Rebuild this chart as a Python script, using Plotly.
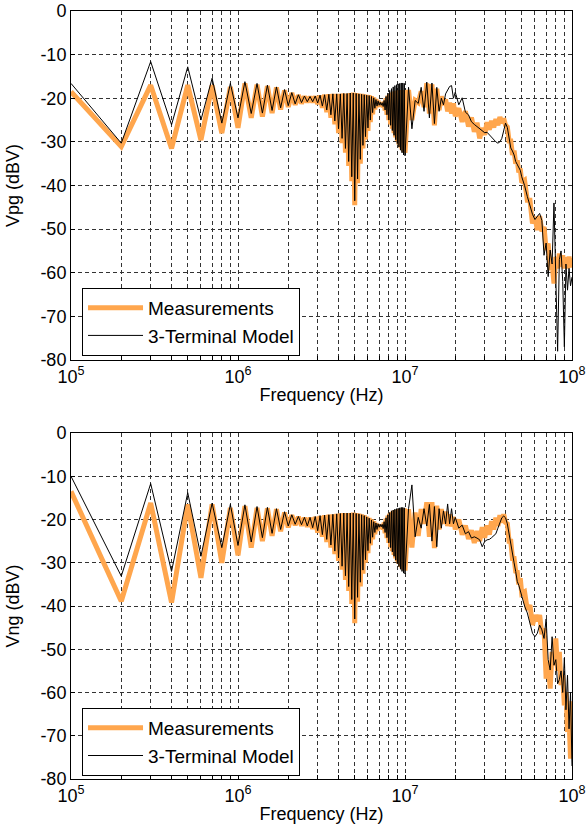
import plotly.graph_objects as go

# ---------------- DATA ----------------
# Low-frequency part: harmonics of 100 kHz (n = 1..100)
HARMONIC_STEP_HZ = 1e5
HARMONICS = list(range(1, 101))

# Vpg - Measurements (odd harmonics n=1,3,..,99 / even harmonics n=2,4,..,100), dBV
vpg_meas_odd = [-18.5, -17, -17, -17, -17.4, -16.6, -16.9, -17.2, -17.5, -18.2,
                -18.8, -19.3, -19.6, -19.7, -19.6, -19.4, -19.2, -19.1, -19, -19,
                -19, -18.9, -18.9, -18.8, -18.7, -18.8, -18.9, -19, -19.1, -19.2,
                -19.3, -19.5, -19.8, -20.2, -20.6, -21, -21.2, -20.8, -20, -19.4,
                -19, -18.7, -18.5, -18.4, -18.3, -18.2, -18.2, -18.1, -18.1, -18.1]
vpg_meas_even = [-31.1, -31.5, -29.6, -28, -26.8, -24.5, -24.2, -23.4, -22.6, -22,
                 -21.5, -21.2, -20.9, -20.9, -21.3, -22.2, -23.2, -24.5, -26, -28,
                 -30.3, -32.5, -35.5, -39, -44.5, -39.5, -35, -31.5, -29.5, -27.5,
                 -25.5, -23.7, -22.6, -22, -21.8, -21.8, -22, -22.8, -23.8, -25,
                 -26, -27, -28, -29, -29.8, -30.6, -31.3, -31.8, -32.2, -32.5]

# Vpg - 3-Terminal Model
vpg_model_odd = [-16.6, -11.6, -12.8, -15.4, -16.6, -16.2, -16.6, -17, -17.4, -18,
                 -18.7, -19.2, -19.5, -19.6, -19.5, -19.3, -19.2, -19.1, -19, -19,
                 -19, -18.9, -18.9, -18.8, -18.8, -18.9, -19, -19.1, -19.2, -19.3,
                 -19.4, -19.6, -19.9, -20.3, -20.6, -20.9, -21, -20.5, -19.6, -18.8,
                 -18.2, -17.8, -17.4, -17.1, -16.9, -16.7, -16.6, -16.5, -16.5, -16.6]
vpg_model_even = [-30.3, -26.1, -25, -25.7, -24.5, -23.5, -23.4, -22.8, -22.2, -21.7,
                  -21.3, -21, -20.8, -20.8, -21.1, -21.8, -22.7, -23.8, -25.2, -27,
                  -29.2, -31.5, -34.5, -38, -43.5, -38.5, -34, -30.8, -28.8, -26.8,
                  -25, -23.3, -22.3, -21.8, -21.6, -21.6, -21.9, -22.7, -23.8, -25,
                  -26.2, -27.4, -28.5, -29.5, -30.4, -31.2, -31.9, -32.5, -33, -33.2]

# Vng - Measurements
vng_meas_odd = [-13.5, -16.2, -16.5, -16.5, -17.3, -16.9, -17.3, -17.4, -17.6, -18.4,
                -19, -19.4, -19.6, -19.6, -19.4, -19.2, -19, -18.9, -18.8, -18.7,
                -18.6, -18.5, -18.5, -18.5, -18.4, -18.5, -18.6, -18.8, -19, -19.3,
                -19.6, -20, -20.4, -20.8, -21.1, -21.3, -21.3, -20.7, -19.8, -19.1,
                -18.6, -18.3, -18, -17.9, -17.8, -17.7, -17.6, -17.5, -17.4, -17.4]
vng_meas_even = [-38.9, -39.2, -33.5, -30, -28.3, -26.5, -25, -23.8, -22.7, -21.8,
                 -21.3, -21.4, -21.7, -22.2, -23, -24, -25.2, -26.5, -28, -29.6,
                 -31.6, -34, -36.5, -39.5, -44, -39, -35.5, -32.5, -30, -27.8,
                 -26, -24.6, -23.4, -22.6, -22.1, -21.9, -22.3, -23.2, -24.3, -25.4,
                 -26.4, -27.3, -28.2, -29, -29.7, -30.3, -30.9, -31.3, -31.6, -31.8]

# Vng - 3-Terminal Model
vng_model_odd = [-10, -11.7, -13.8, -16.2, -16.5, -16.6, -17, -17.2, -17.5, -18.2,
                 -18.9, -19.3, -19.5, -19.5, -19.3, -19.1, -19, -18.9, -18.8, -18.7,
                 -18.6, -18.5, -18.5, -18.5, -18.5, -18.6, -18.7, -18.9, -19.1, -19.4,
                 -19.7, -20.1, -20.5, -20.8, -21, -21.1, -21.1, -20.5, -19.6, -18.9,
                 -18.4, -18, -17.8, -17.6, -17.5, -17.4, -17.3, -17.2, -17.2, -17.3]
vng_model_even = [-33.1, -32, -28.5, -26.5, -26, -25.2, -24.2, -23.2, -22.3, -21.5,
                  -21.1, -21.2, -21.5, -21.9, -22.6, -23.5, -24.6, -25.9, -27.3, -28.9,
                  -30.8, -33, -35.5, -38.5, -43, -38, -34.5, -31.7, -29.3, -27.2,
                  -25.5, -24.1, -23, -22.3, -21.8, -21.7, -22.1, -23, -24.2, -25.4,
                  -26.5, -27.5, -28.5, -29.4, -30.2, -30.9, -31.5, -32, -32.4, -32.6]

# High-frequency part (10.5 MHz .. 100 MHz), frequencies in MHz
HF_MHZ = [10.5, 11, 11.5, 12, 12.5, 13, 13.5, 14, 14.5, 15, 15.5, 16, 16.5, 17, 17.5,
          18, 18.5, 19, 19.5, 20,
          21, 22, 23, 24, 25, 26, 27, 28, 29, 30, 31, 32, 33, 34, 35, 36, 37, 38, 39, 40,
          41, 42, 43, 44, 45, 46, 47, 48, 49, 50,
          52, 54, 56, 58, 60, 62, 64, 66, 68, 70, 72, 74, 76, 78, 80, 82, 84, 86, 88,
          90, 92, 94, 96, 98, 100]

vpg_meas_hf = [-18.1, -25, -20.5, -21, -18.4, -22, -16.6, -23.5, -16.8, -26.2, -17.8, -22.7,
               -19.6, -21.5, -20.3, -23, -21, -23.5, -21.2, -24.1,
               -22.3, -25.4, -23, -26.5, -24.4, -27.7, -25.6, -29.2, -26.8, -28.4,
               -25.5, -27.2, -25.2, -26.7, -24.8, -26.2, -24.3, -25.7, -24.6, -26.2,
               -26.6, -29.8, -29.8, -33, -32, -35, -34.2, -37, -36.1, -39.3,
               -38.8, -43.4, -43.4, -48.7, -47.2, -50.2, -47, -50.5, -49.5, -54.8,
               -53.3, -59.4, -57.9, -62.5, -56.4, -59, -55.6, -58.6, -56, -59,
               -56.5, -59, -56.3, -58.8, -56.6]
vpg_model_hf = [-17.5, -27, -20.5, -21.2, -17.5, -23, -16.3, -24.5, -16.5, -25.8, -17.5, -23,
                -20, -21.5, -19, -18.2, -17.3, -17.1, -20, -18.6,
                -21.5, -19.9, -23.2, -23.8, -25.4, -26, -26.5, -27, -27.5, -27.9,
                -27.8, -28.4, -29, -29.6, -30, -30.3, -30, -29.2, -27, -25.7,
                -26.7, -29, -31.4, -32.1, -33, -34.5, -35.2, -35.8, -36.5, -38,
                -40, -42.5, -44.8, -46.6, -47.8, -47.2, -46.4, -48, -56, -53.2,
                -60.9, -54.8, -58, -44, -60, -78, -57, -55, -62, -77,
                -58, -64, -59, -63, -61]
vng_meas_hf = [-17.6, -26.5, -18.4, -23.8, -17.6, -21, -16, -24, -16, -26.6, -16.8, -22.3,
               -17.6, -21, -18.2, -21.5, -18.8, -21.6, -19.4, -22.3,
               -20, -23.5, -21.4, -24.5, -22.5, -25.4, -22.7, -25, -21.8, -24.2,
               -21.4, -23.5, -20.4, -22.3, -19.6, -21.5, -19, -20.7, -18.8, -20.7,
               -21, -25, -25, -29, -29, -32, -32.1, -35, -33.6, -37.1,
               -36.7, -40.9, -39.8, -44.4, -42.1, -43.5, -42.1, -46.5, -45.2, -56.8,
               -53, -59.1, -50.6, -53.7, -47.5, -55, -50.6, -58.3, -56, -63,
               -59.9, -69.1, -66, -75.3, -62]
vng_model_hf = [-17.5, -12, -24, -19.5, -22, -17.5, -21.5, -16.5, -25, -17, -26.3, -17.5,
                -22, -18, -21, -16.4, -21, -17.5, -21, -19.5,
                -22, -21.3, -23.3, -22.8, -24.3, -24, -24.3, -24.7, -26.3, -25.1,
                -24.7, -24.6, -24.2, -23.8, -23.3, -22, -20.5, -19.6, -19.2, -19.6,
                -21, -23.5, -26.3, -28.5, -30, -32, -34.3, -35.2, -36.5, -38,
                -40, -41.6, -44, -46.3, -47.1, -46.3, -44.4, -45.5, -47.5, -43,
                -52.4, -54.8, -47.1, -53.7, -52.4, -58, -57, -55, -60, -52,
                -64, -56, -68.4, -60, -77]

# Axis ticks
Y_TICKS = [0, -10, -20, -30, -40, -50, -60, -70, -80]
DECADE_EXP = [5, 6, 7, 8]
MINOR_MULT = [2, 3, 4, 5, 6, 7, 8, 9]

SERIES_NAMES = ["Measurements", "3-Terminal Model"]
Y_TITLES = ["Vpg (dBV)", "Vng (dBV)"]
X_TITLE = "Frequency (Hz)"


# ---------------- BUILD ----------------
def interleave(odd, even):
    out = []
    for a, b in zip(odd, even):
        out += [a, b]
    return out


x_all = [n * HARMONIC_STEP_HZ for n in HARMONICS] + [f * 1e6 for f in HF_MHZ]

panels = [
    (interleave(vpg_meas_odd, vpg_meas_even) + vpg_meas_hf,
     interleave(vpg_model_odd, vpg_model_even) + vpg_model_hf),
    (interleave(vng_meas_odd, vng_meas_even) + vng_meas_hf,
     interleave(vng_model_odd, vng_model_even) + vng_model_hf),
]

ORANGE = "#FFA64D"
FONT = "Liberation Sans, Arial, Helvetica, sans-serif"
FS = 18

fig = go.Figure()
for i, (meas, model) in enumerate(panels):
    xa = "x" if i == 0 else "x2"
    ya = "y" if i == 0 else "y2"
    lg = "legend" if i == 0 else "legend2"
    fig.add_trace(go.Scatter(x=x_all, y=meas, mode="lines", name=SERIES_NAMES[0],
                             line=dict(color=ORANGE, width=5), xaxis=xa, yaxis=ya,
                             legend=lg))
    fig.add_trace(go.Scatter(x=x_all, y=model, mode="lines", name=SERIES_NAMES[1],
                             line=dict(color="black", width=1), xaxis=xa, yaxis=ya,
                             legend=lg))

tickvals, ticktext = [], []
for e in DECADE_EXP:
    tickvals.append(10 ** e)
    ticktext.append(f"10<sup>{e}</sup>")
    if e < DECADE_EXP[-1]:
        for m in MINOR_MULT:
            tickvals.append(m * 10 ** e)
            ticktext.append("")

GRID = dict(showgrid=True, gridcolor="#333333", gridwidth=1, griddash="4px,3px")
AX = dict(showline=True, linecolor="black", linewidth=1, mirror=True,
          ticks="inside", ticklen=4, tickcolor="black", zeroline=False,
          automargin=False, ticklabeloverflow="allow",
          tickfont=dict(family=FONT, size=FS, color="black"), **GRID)

xcommon = dict(type="log", range=[5, 8], tickmode="array", tickvals=tickvals,
               ticktext=ticktext,
               title=dict(text=X_TITLE, font=dict(family=FONT, size=FS, color="black"),
                          standoff=2), **AX)
ycommon = dict(range=[-80, 0], tickmode="array", tickvals=Y_TICKS,
               ticktext=[str(v) for v in Y_TICKS], **AX)

legend_style = dict(bgcolor="white", bordercolor="black", borderwidth=1,
                    font=dict(family=FONT, size=19, color="black"),
                    xanchor="left", yanchor="top", tracegroupgap=0,
                    itemwidth=55)

fig.update_layout(
    width=586, height=835,
    margin=dict(l=71, r=14, t=11, b=56),
    paper_bgcolor="white", plot_bgcolor="white",
    font=dict(family=FONT, size=FS, color="black"),
    xaxis=dict(domain=[0, 1], anchor="y", **xcommon),
    yaxis=dict(domain=[0.5456, 1], anchor="x",
               title=dict(text=Y_TITLES[0], font=dict(family=FONT, size=FS), standoff=16),
               **ycommon),
    xaxis2=dict(domain=[0, 1], anchor="y2", **xcommon),
    yaxis2=dict(domain=[0, 0.4505], anchor="x2",
                title=dict(text=Y_TITLES[1], font=dict(family=FONT, size=FS), standoff=16),
                **ycommon),
    legend=dict(x=0.022, y=0.6395, **legend_style),
    legend2=dict(x=0.022, y=0.0925, **legend_style),
    showlegend=True,
)

# remove the default page margin so the 586x835 figure fills the window exactly
fig.write_html("out.html",
               config={"displayModeBar": False},
               post_script="document.body.style.margin='0';"
                           "document.body.style.overflow='hidden';")
